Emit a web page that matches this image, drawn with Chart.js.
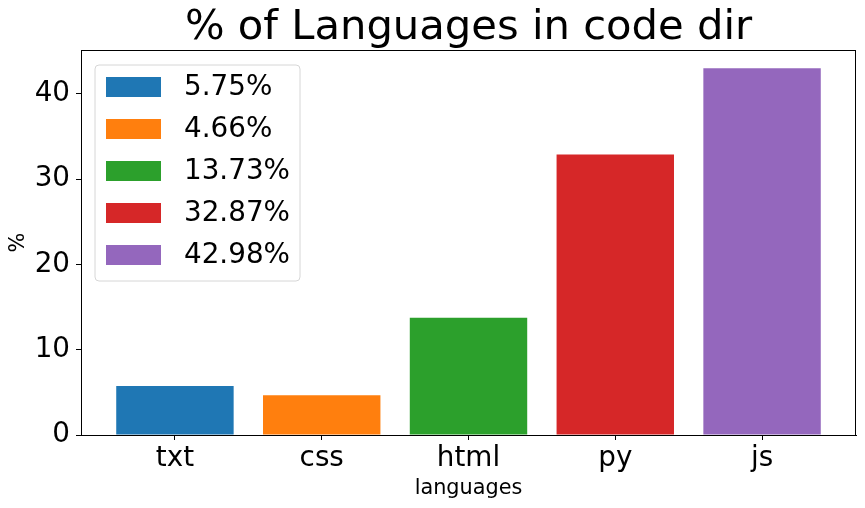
<!DOCTYPE html>
<html>
<head>
<meta charset="utf-8">
<script src="https://cdn.jsdelivr.net/npm/chart.js@4"></script>
<style>
  html, body { margin: 0; padding: 0; background: #fff; }
  #wrap { width: 865px; height: 508px; }
</style>
</head>
<body>
<div id="wrap"><canvas id="BarChart" width="865" height="508"></canvas></div>
<script>
// data
var languages = ["txt", "css", "html", "py", "js"];
var percents = [5.75, 4.66, 13.73, 32.87, 42.98];
var legendLabels = ["5.75%", "4.66%", "13.73%", "32.87%", "42.98%"];
var colors = ["#1f77b4", "#ff7f0e", "#2ca02c", "#d62728", "#9467bd"];
var yTicks = [0, 10, 20, 30, 40];
var chartTitle = "% of Languages in code dir";

var FONT = "'DejaVu Sans', sans-serif";

// one dataset per bar so each gets its own legend entry
var datasets = languages.map(function (lang, i) {
  return {
    label: legendLabels[i],
    data: [{ x: i, y: percents[i] }],
    backgroundColor: colors[i],
    borderWidth: 0,
    grouped: false,
    categoryPercentage: 1,
    barPercentage: 0.8
  };
});

// matplotlib style: title centred on the axes, box round the axes, legend inside
var mplLook = {
  id: "mplLook",
  afterDatasetsDraw: function (chart) {
    var c = chart.ctx, a = chart.chartArea;
    c.save();
    c.strokeStyle = "#000";
    c.lineWidth = 1;
    c.strokeRect(a.left + 0.5, a.top + 0.5, a.right - a.left - 1, a.bottom - a.top);

    // title
    c.fillStyle = "#000";
    c.font = "41.7px " + FONT;
    c.textAlign = "center";
    c.textBaseline = "alphabetic";
    c.fillText(chartTitle, (a.left + a.right) / 2, a.top - 11);

    // legend
    var bx = a.left + 14, by = a.top + 15, bw = 205, bh = 216, r = 4;
    c.beginPath();
    c.moveTo(bx + r, by);
    c.arcTo(bx + bw, by, bx + bw, by + bh, r);
    c.arcTo(bx + bw, by + bh, bx, by + bh, r);
    c.arcTo(bx, by + bh, bx, by, r);
    c.arcTo(bx, by, bx + bw, by, r);
    c.closePath();
    c.fillStyle = "rgba(255,255,255,0.8)";
    c.fill();
    c.strokeStyle = "#d6d6d6";
    c.stroke();

    c.font = "27.8px " + FONT;
    c.textAlign = "left";
    c.textBaseline = "middle";
    chart.data.datasets.forEach(function (ds, i) {
      var cy = by + 22 + i * 42;
      c.fillStyle = ds.backgroundColor;
      c.fillRect(bx + 11, cy - 10, 55, 20);
      c.fillStyle = "#000";
      c.fillText(ds.label, bx + 89, cy + 1);
    });
    c.restore();
  }
};

new Chart(document.getElementById("BarChart"), {
  type: "bar",
  data: { datasets: datasets },
  plugins: [mplLook],
  options: {
    responsive: false,
    animation: false,
    layout: { padding: { left: 0, right: 9, top: 50, bottom: 0 } },
    plugins: {
      legend: { display: false },
      tooltip: { enabled: false }
    },
    scales: {
      x: {
        type: "linear",
        offset: false,
        min: -0.64,
        max: 4.64,
        afterBuildTicks: function (s) {
          s.ticks = languages.map(function (l, i) { return { value: i }; });
        },
        afterFit: function (s) { s.height = 73; },
        ticks: {
          color: "#000",
          font: { family: FONT, size: 27.8 },
          padding: 2,
          maxRotation: 0,
          autoSkip: false,
          callback: function (v) { return languages[v]; }
        },
        grid: { display: true, offset: false, drawOnChartArea: false, drawTicks: true, tickLength: 5, color: "#000" },
        border: { display: true, color: "#000" },
        title: {
          display: true,
          text: "languages",
          color: "#000",
          font: { family: FONT, size: 20.8 },
          padding: { top: 0, bottom: 7 }
        }
      },
      y: {
        min: 0,
        max: 45.13,
        afterBuildTicks: function (s) {
          s.ticks = yTicks.map(function (v) { return { value: v }; });
        },
        afterFit: function (s) { s.width = 81; },
        ticks: {
          color: "#000",
          font: { family: FONT, size: 27.8 },
          padding: 6
        },
        grid: { display: true, drawOnChartArea: false, drawTicks: true, tickLength: 5, color: "#000" },
        border: { display: true, color: "#000" },
        title: {
          display: true,
          text: "%",
          color: "#000",
          font: { family: FONT, size: 20.8 },
          padding: { top: 6, bottom: 0 }
        }
      }
    }
  }
});
</script>
</body>
</html>
